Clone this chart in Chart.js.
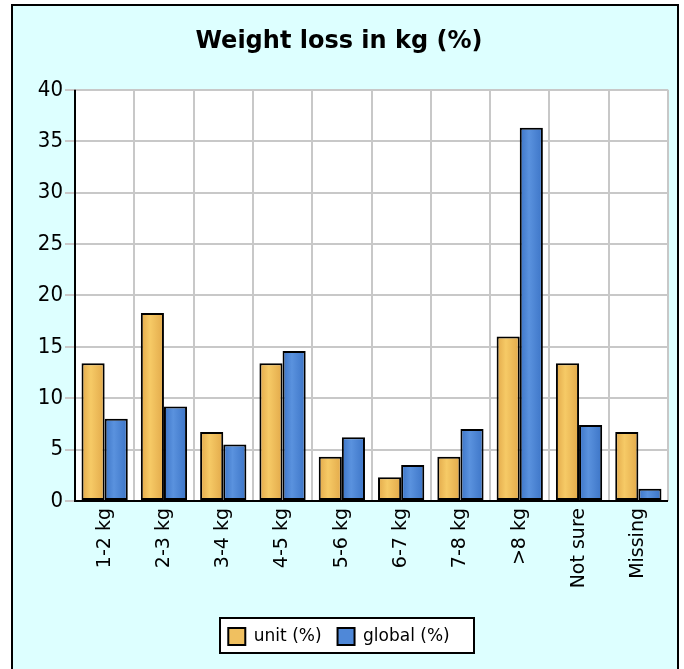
<!DOCTYPE html>
<html>
<head>
<meta charset="utf-8">
<script src="https://cdn.jsdelivr.net/npm/chart.js@4/dist/chart.umd.min.js"></script>
<style>
html,body{margin:0;padding:0;background:#fff;}
#wrap{position:relative;width:684px;height:669px;}
</style>
</head>
<body>
<div id="wrap"><canvas id="c" width="684" height="669"></canvas></div>
<script>
const categories = ["1-2 kg","2-3 kg","3-4 kg","4-5 kg","5-6 kg","6-7 kg","7-8 kg",">8 kg","Not sure","Missing"];
const unitValues = [13.4, 18.3, 6.7, 13.4, 4.3, 2.3, 4.3, 16.0, 13.4, 6.7];
const globalValues = [8.0, 9.2, 5.5, 14.6, 6.2, 3.5, 7.0, 36.3, 7.4, 1.2];
const yTicks = [0,5,10,15,20,25,30,35,40];
const seriesNames = ["unit (%)","global (%)"];

const FONT = "'DejaVu Sans', Verdana, sans-serif";
const NARROW = "'Liberation Sans Narrow', 'DejaVu Sans Condensed', 'Liberation Sans', sans-serif";
const CAT_PCT = 0.78;

function barGradient(ctx, dark, light, side){
  const chart = ctx.chart;
  const xs = chart.scales.x;
  if (!xs || ctx.type !== 'data') return light;
  const idx = ctx.dataIndex;
  const center = xs.getPixelForValue(idx);
  const catW = (xs.right - xs.left) / categories.length;
  const bw = catW * CAT_PCT / 2;
  const left = side === 0 ? center - bw : center;
  const right = left + bw;
  if (!isFinite(left)) return light;
  const g = chart.ctx.createLinearGradient(left, 0, right, 0);
  g.addColorStop(0, dark);
  g.addColorStop(0.4, light);
  g.addColorStop(1, dark);
  return g;
}

function legendFrame(chart){
  const lg = chart.legend;
  if (!lg || !lg.legendHitBoxes || !lg.legendHitBoxes.length) return null;
  const hb = lg.legendHitBoxes;
  let l = Infinity, r = -Infinity, t = Infinity, b = -Infinity;
  hb.forEach(h => { l=Math.min(l,h.left); r=Math.max(r,h.left+h.width); t=Math.min(t,h.top); b=Math.max(b,h.top+h.height); });
  return { x0: Math.round(l-8), y0: Math.round(t-10), x1: Math.round(r+24), y1: Math.round(b+8) };
}

const bgPlugin = {
  id: 'bgPlugin',
  beforeDraw(chart){
    const c = chart.ctx;
    c.save();
    c.fillStyle = '#ffffff';
    c.fillRect(0,0,chart.width,chart.height);
    c.fillStyle = '#DDFFFF';
    c.fillRect(12,5,666,664);
    c.strokeStyle = '#000';
    c.lineWidth = 2;
    c.strokeRect(12,5,666,670);
    const a = chart.chartArea;
    c.fillStyle = '#ffffff';
    c.fillRect(a.left, a.top, a.right-a.left, a.bottom-a.top);
    const f = legendFrame(chart);
    if (f) {
      c.fillStyle = '#ffffff';
      c.fillRect(f.x0, f.y0, f.x1-f.x0, f.y1-f.y0);
      c.strokeStyle = '#000';
      c.lineWidth = 2;
      c.strokeRect(f.x0, f.y0, f.x1-f.x0, f.y1-f.y0);
    }
    c.restore();
  },
  afterDatasetsDraw(chart){
    const a = chart.chartArea;
    const c = chart.ctx;
    c.save();
    c.strokeStyle = '#000';
    c.lineWidth = 2;
    c.beginPath();
    c.moveTo(a.left, a.top);
    c.lineTo(a.left, a.bottom);
    c.lineTo(a.right, a.bottom);
    c.stroke();
    c.restore();
  }
};

new Chart(document.getElementById('c'), {
  type: 'bar',
  data: {
    labels: categories,
    datasets: [
      {
        label: seriesNames[0],
        data: unitValues,
        backgroundColor: ctx => barGradient(ctx, '#E2A94A', '#F6CA66', 0),
        borderColor: '#000',
        borderWidth: 2,
        borderSkipped: false,
        categoryPercentage: CAT_PCT,
        barPercentage: 1.0
      },
      {
        label: seriesNames[1],
        data: globalValues,
        backgroundColor: ctx => barGradient(ctx, '#3C74C6', '#5A92DE', 1),
        borderColor: '#000',
        borderWidth: 2,
        borderSkipped: false,
        categoryPercentage: CAT_PCT,
        barPercentage: 1.0
      }
    ]
  },
  options: {
    responsive: false,
    animation: false,
    devicePixelRatio: 1,
    layout: { padding: { left: 10, right: 16, top: 0, bottom: 14 } },
    plugins: {
      tooltip: { enabled: false },
      title: {
        display: true,
        text: 'Weight loss in kg (%)',
        color: '#000',
        font: { family: FONT, size: 24, weight: 'bold', lineHeight: 1.2 },
        padding: { top: 27, bottom: 34 }
      },
      legend: {
        display: true,
        position: 'bottom',
        labels: {
          color: '#000',
          font: { family: FONT, size: 17 },
          boxWidth: 17,
          boxHeight: 17,
          padding: 16,
          generateLabels(chart){
            return chart.data.datasets.map((ds,i) => ({
              text: ds.label,
              fillStyle: i === 0 ? '#F0C060' : '#4F88D8',
              strokeStyle: '#000',
              lineWidth: 2,
              hidden: false,
              datasetIndex: i
            }));
          }
        }
      }
    },
    scales: {
      x: {
        grid: { color: '#C8C8C8', lineWidth: 2, drawTicks: false, offset: true },
        border: { display: false },
        ticks: {
          color: '#000',
          font: { family: FONT, size: 19 },
          minRotation: 90,
          maxRotation: 90,
          padding: 7,
          autoSkip: false
        },
        afterFit(scale){ scale.height = 111; }
      },
      y: {
        min: 0,
        max: 40,
        afterBuildTicks(scale){ scale.ticks = yTicks.map(v => ({ value: v })); },
        grid: { color: '#C8C8C8', lineWidth: 2, tickLength: 10 },
        border: { display: false },
        ticks: {
          color: '#000',
          font: { family: NARROW, size: 22 },
          padding: 2
        },
        afterFit(scale){ scale.width = 65; }
      }
    }
  },
  plugins: [bgPlugin]
});
</script>
</body>
</html>
